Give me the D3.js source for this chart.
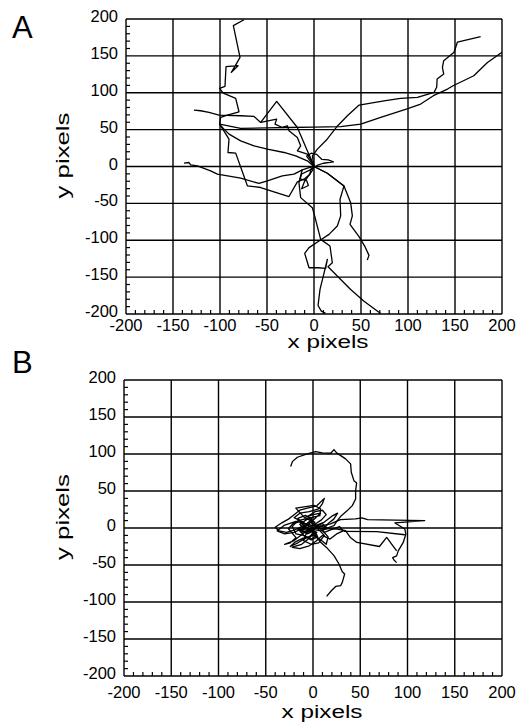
<!DOCTYPE html>
<html>
<head>
<meta charset="utf-8">
<script src="https://cdn.jsdelivr.net/npm/d3@7"></script>
<style>
  body { margin: 0; background: #fff; }
  text { font-family: "Liberation Sans", Arial, Helvetica, sans-serif; fill: #000; }
</style>
</head>
<body>
<svg id="chart" width="523" height="724"></svg>
<script>
// axis ticks (both axes, both panels)
const majorTicks = [-200, -150, -100, -50, 0, 50, 100, 150, 200];
const minorTicks = d3.range(-190, 200, 10).filter(v => v % 50 !== 0);

// panel A tracks, [x, y] in pixels
const trackA1 = [[-74.5,199],[-85.8,191],[-78.7,148],[-83.7,136.7],[-87.9,127.6],[-80.8,136.7],[-93.6,135.3],[-94.7,108.6],[-100.4,105.9],[-96.5,99.6],[-83.3,92.3],[-79.8,74.2],[-92.2,69.7],[-99.3,66.5],[-100.4,58.8],[-99.3,55.2],[-90.4,43.9],[-78,34.8],[-63.8,28],[-49.6,23.5],[-31.9,19],[-19.5,14.5],[-7.1,7.7],[0,0]];
const trackA2 = [[-100.4,57.5],[-90.4,37.1],[-91.5,19],[-83.3,18.1],[-70.9,-26.2],[-56.7,-28.5],[-42.6,-34.4],[-26.6,-40.7],[-17.7,-20.8],[-10.6,-17.2],[-4.3,-10.4],[-3.5,-3.6],[0,0]];
const trackA3 = [[-138.3,4.5],[-133,5.4],[-131.2,2.3],[-124.1,0.9],[-110,-5.9],[-102.8,-10.4],[-78,-15.8],[-58.5,-23],[-49.6,-19.5],[-33.7,-12.7],[-21.3,-10.4],[-12.4,-4.5],[-5.3,-1.4],[0,0]];
const trackA4 = [[-127.7,76.5],[-120.6,75.6],[-111.7,73.3],[-101.1,69.7],[-78,68.8],[-63.8,67.9],[-56.7,59.7],[-39.7,64.3],[-41.5,57.5],[-33.7,52.9],[-28.4,55.2],[-26.6,48.4],[-17.7,39.4],[-14.2,28.1],[-17.7,21.3],[-7.1,16.7],[0.7,0]];
const trackA5 = [[0,0],[-0.7,3.2],[-7.1,21.3],[-17.7,52.9],[-39.7,88.2],[-56.7,59.7]];
const trackA6 = [[-100.4,57.5],[-78,51.6],[-50,52.5],[-28.4,52.9],[0,53.4],[28.4,54],[49.7,57.4],[71,66.6],[99,78],[113.5,84.7],[127,96],[142,105],[148,109.5],[170,123],[184.5,141],[200,155]];
const trackA7 = [[0,0],[-1.7,14.4],[3.6,23.5],[14,37],[25,55],[35.5,68.8],[48,83.3],[74.5,89],[92,92.4],[110,93.8],[127.7,100.5],[130.5,107.4],[131,118.6],[138,125.4],[136.6,134.5],[138,143.5],[149,155],[152.5,168.5],[177.3,176]];
const trackA8 = [[0,0],[-7.8,14.2],[-3,18],[2.8,16.4],[8.2,9.8],[15.2,8.9],[20.6,6.2],[9.9,4.4],[4,2],[-3,-4],[-13.1,-10.2],[-14.9,-16.9],[-7.8,-19.1],[-6,-25.8],[-13.1,-30.2],[-10,-20],[-2,-6],[0,0]];
const trackA9 = [[0,0],[14.2,-9.1],[31.9,-26.3],[27.7,-44.4],[28.4,-67],[24.8,-80.7],[16,-92],[5.3,-101],[-5.3,-110],[-9.9,-117.8],[-5.3,-137.3],[4.3,-137.3],[12.4,-138.2],[14.2,-126],[10.6,-145],[6.4,-166.7],[4.3,-188.5],[7.8,-196],[12.4,-199]];
const trackA10 = [[-12.4,-3.7],[-16,-21.8],[-14.2,-42.2],[-1.8,-55.8],[0.7,-67],[4.3,-85],[7.1,-98.8],[17,-107.8],[19.5,-130.5],[14.9,-136],[18.4,-140.4],[39,-166.7],[53.2,-182.6],[70.9,-199.4]];
const trackA11 = [[0,0],[14.2,-9.1],[31.9,-26.3],[39,-49],[40.8,-67],[38.3,-78.4],[47.9,-95.2],[53.9,-107.9],[58.5,-120.5],[56.7,-126.9]];

// panel B tracks
const trackB1 = [[-23.6,83],[-21.8,89.7],[-16.6,95.6],[-6,100.1],[2.8,103.3],[9.9,101.5],[18.7,101],[22.2,106],[25,101.5],[34.5,93.4],[39.8,86.6],[40.5,75.3],[43.3,64],[46.2,60.9],[45.1,50.5],[45.1,39.2],[41.6,30.2],[36.3,23.5],[30,16.7],[25.7,9.9],[22.2,3.2],[15,0],[8,3],[0,0]];
const trackB2 = [[0,0],[18.5,5.5],[29,11.4],[44.8,12.3],[51.8,13.6],[57.7,11.4],[118.2,10],[86.7,6.8],[97.2,-1.4],[98.3,-8.2],[95.5,-19.5],[90.2,-30.9],[88.5,-37.7],[84.3,-40],[85.7,-43.2],[88.5,-46.8]];
const trackB3 = [[0,0],[25.5,-1.4],[34.3,-3.6],[39.5,-12.7],[46.5,-19.5],[70.3,-25],[78,-12.7],[83.2,-21.8],[88.5,-30.9]];
const trackB4 = [[32.5,-4.5],[67.5,-5],[97.2,-9.1]];
const trackB5 = [[0,-6],[8.1,-19.4],[15.2,-27.5],[22.2,-37.4],[27.5,-48.7],[31,-59.1],[33.5,-62.2],[31,-73.5],[29.2,-78],[24,-79],[19.4,-84.8],[14.4,-92.5]];
const trackB6 = [[0,0],[-6,4],[-12,9],[-20,14],[-14,20],[-4,22],[6,26],[10,33],[12,40],[4,30],[-6,27],[-14,24],[-20,18],[-26,12],[-33,7],[-40,1],[-36,-4],[-28,-6],[-20,-3],[-12,2],[-4,-1],[4,-6],[-2,-11],[-11,-14],[-19,-19],[-24,-25],[-16,-20],[-8,-14],[0,-9],[8,-16],[14,-22],[16,-12],[10,-3],[16,6],[22,12],[26,20],[20,16],[12,8],[4,4],[-4,8],[-10,3],[-16,-2],[-8,-6],[0,-3],[6,3],[0,0]];
const trackB7 = [[0,0],[-9,-2],[-14,5],[-6,12],[2,8],[-3,-2],[-12,-6],[-7,3],[3,14],[8,20],[0,18],[-9,14],[-18.2,26.8],[1,30.5],[8,26],[7.3,16.8],[-16,10],[-22,2],[-18,-8],[-10,-10],[-2,-16],[5,-12],[1,-4],[-6,-8],[-13,-3],[-5,5],[5,2],[12,-6],[20,-2],[28,2],[32,-4],[25,-8],[18,-15],[10,-10],[3,-18],[-4,-24],[-14,-28],[-22,-26],[-12,-22],[-4,-14],[0,-6],[0,0]];
const trackB8 = [[-4,2],[-10,7],[-18,9],[-30,4],[-38,-4],[-30,-8],[-20,-6],[-12,-1],[-6,6],[-1,12],[-8,17],[-16,13],[-11,4],[-3,-3],[4,-9],[-1,-15],[-9,-11],[-14,-4],[-6,1],[2,5],[9,11],[14,18],[10,24],[2,22],[-5,16],[-2,8],[6,-2],[12,-10],[6,-20],[-2,-22],[-10,-17],[-7,-7],[0,-2],[8,-4],[15,-1],[10,6],[3,3],[-3,-5],[-8,2],[-13,9],[-21,6],[-26,-1],[-18,-13],[-24,-20],[-30,-22],[-20,-17],[-9,-6],[-2,0]];

const tracksA = [trackA1, trackA2, trackA3, trackA4, trackA5, trackA6, trackA7, trackA8, trackA9, trackA10, trackA11];
const tracksB = [trackB1, trackB2, trackB3, trackB4, trackB5, trackB6, trackB7, trackB8];

const svg = d3.select("#chart");

function drawPanel(p) {
    const x = d3.scaleLinear().domain([-200, 200]).range([p.left, p.right]);
    const y = d3.scaleLinear().domain([-200, 200]).range([p.bottom, p.top]);
    const g = svg.append("g");

    // grid
    g.selectAll("line.vg").data(majorTicks).enter().append("line")
        .attr("x1", d => x(d)).attr("x2", d => x(d))
        .attr("y1", p.top).attr("y2", p.bottom)
        .attr("stroke", "#000").attr("stroke-width", 1.4);
    g.selectAll("line.hg").data(majorTicks).enter().append("line")
        .attr("x1", p.left).attr("x2", p.right)
        .attr("y1", d => y(d)).attr("y2", d => y(d))
        .attr("stroke", "#000").attr("stroke-width", 1.4);

    // minor ticks, pointing inward
    g.selectAll("line.mx").data(minorTicks).enter().append("line")
        .attr("x1", d => x(d)).attr("x2", d => x(d))
        .attr("y1", p.bottom).attr("y2", p.bottom - 4)
        .attr("stroke", "#000").attr("stroke-width", 1.2);
    g.selectAll("line.my").data(minorTicks).enter().append("line")
        .attr("x1", p.left).attr("x2", p.left + 4)
        .attr("y1", d => y(d)).attr("y2", d => y(d))
        .attr("stroke", "#000").attr("stroke-width", 1.2);

    // tracks
    const line = d3.line().x(d => x(d[0])).y(d => y(d[1]));
    g.selectAll("path.track").data(p.tracks).enter().append("path")
        .attr("d", line)
        .attr("fill", "none")
        .attr("stroke", "#000")
        .attr("stroke-width", 1.3)
        .attr("stroke-linejoin", "round");

    // tick labels
    g.selectAll("text.xl").data(majorTicks).enter().append("text")
        .attr("x", d => x(d)).attr("y", p.bottom + p.xLabelOff)
        .attr("text-anchor", "middle")
        .style("font-size", "16.5px")
        .text(d => d);
    g.selectAll("text.yl").data(majorTicks).enter().append("text")
        .attr("x", p.left - 8).attr("y", d => y(d) + 3)
        .attr("text-anchor", "end")
        .style("font-size", "16.5px")
        .text(d => d);

    // axis titles
    g.append("text")
        .attr("x", p.xTitleX).attr("y", p.bottom + p.xTitleOff)
        .attr("text-anchor", "middle")
        .attr("textLength", 81).attr("lengthAdjust", "spacingAndGlyphs")
        .style("font-size", "18px")
        .text("x pixels");
    g.append("text")
        .attr("transform", "translate(69," + ((p.top + p.bottom) / 2 - 11) + ") rotate(-90)")
        .attr("text-anchor", "middle")
        .attr("textLength", 86).attr("lengthAdjust", "spacingAndGlyphs")
        .style("font-size", "19px")
        .text("y pixels");

    // panel letter
    g.append("text")
        .attr("x", 12).attr("y", p.letterY)
        .style("font-size", "31px")
        .text(p.letter);
}

drawPanel({letter: "A", letterY: 38, left: 126, right: 502, top: 19, bottom: 314,
           xLabelOff: 17, xTitleOff: 34, xTitleX: 328, tracks: tracksA});
drawPanel({letter: "B", letterY: 373, left: 124, right: 502, top: 380, bottom: 676,
           xLabelOff: 22, xTitleOff: 42, xTitleX: 322, tracks: tracksB});
</script>
</body>
</html>
